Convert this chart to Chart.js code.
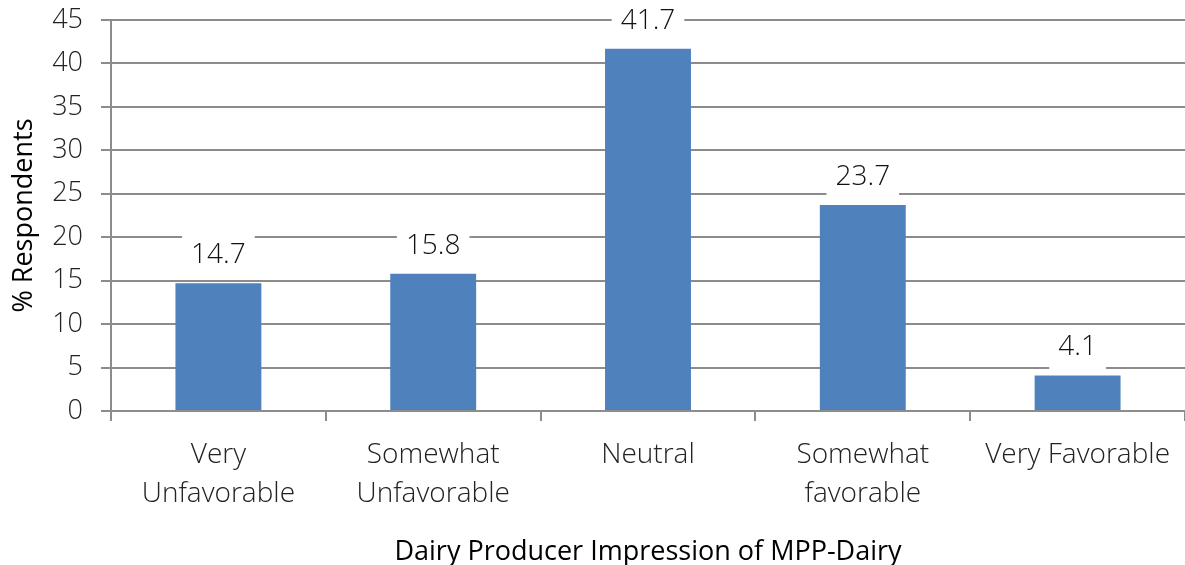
<!DOCTYPE html>
<html>
<head>
<meta charset="utf-8">
<script src="https://cdn.jsdelivr.net/npm/chart.js@4"></script>
<style>
  html, body { margin: 0; padding: 0; background: #fff; }
  #wrap { width: 1185px; height: 565px; }
</style>
</head>
<body>
<div id="wrap"><canvas id="impressionChart" width="1185" height="565"></canvas></div>
<script>
const categories = [['Very', 'Unfavorable'], ['Somewhat', 'Unfavorable'], 'Neutral', ['Somewhat', 'favorable'], 'Very Favorable'];
const respondents = [14.7, 15.8, 41.7, 23.7, 4.1];
const yTicks = [0, 5, 10, 15, 20, 25, 30, 35, 40, 45];

const FONT = 'Open Sans';
const GRID = '#8c8c8c';

// Value labels on white boxes above each bar
const valueLabels = {
  id: 'valueLabels',
  afterDatasetsDraw(chart) {
    const ctx = chart.ctx;
    const meta = chart.getDatasetMeta(0);
    ctx.save();
    ctx.font = '300 28px "' + FONT + '"';
    ctx.textAlign = 'center';
    ctx.textBaseline = 'middle';
    meta.data.forEach((bar, i) => {
      const txt = respondents[i].toFixed(1);
      const w = ctx.measureText(txt).width + 18;
      const cy = bar.y - 28;
      ctx.fillStyle = '#fff';
      ctx.fillRect(bar.x - w / 2, cy - 22, w, 44);
      ctx.fillStyle = '#111';
      ctx.fillText(txt, bar.x, cy);
    });
    ctx.restore();
  }
};

new Chart(document.getElementById('impressionChart'), {
  type: 'bar',
  data: {
    labels: categories,
    datasets: [{
      data: respondents,
      backgroundColor: '#4f81bd',
      borderWidth: 0,
      categoryPercentage: 0.4,
      barPercentage: 1.0
    }]
  },
  options: {
    responsive: false,
    animation: false,
    layout: { padding: { top: 20, right: 0, left: 0, bottom: 0 } },
    plugins: { legend: { display: false }, tooltip: { enabled: false } },
    scales: {
      y: {
        min: 0,
        max: 45,
        afterBuildTicks: axis => { axis.ticks = yTicks.map(v => ({ value: v })); },
        afterFit: axis => {
          axis.width = 111;
          axis.paddingTop = 0;
          axis.paddingBottom = 0;
        },
        ticks: { color: '#222', font: { family: FONT, size: 27, weight: '300' }, padding: 18 },
        grid: { color: GRID, lineWidth: 2, tickLength: 10 },
        border: { color: GRID, width: 2 },
        title: { display: true, text: '% Respondents', color: '#000', font: { family: FONT, size: 27 }, padding: { top: 8, bottom: 0 } }
      },
      x: {
        afterFit: axis => { axis.height = 154; },
        ticks: { color: '#222', font: { family: FONT, size: 28, weight: '300', lineHeight: 1.4 }, padding: 14, maxRotation: 0 },
        grid: { color: GRID, lineWidth: 2, tickLength: 10, drawOnChartArea: false },
        border: { color: GRID, width: 2 },
        title: { display: true, text: 'Dairy Producer Impression of MPP-Dairy', color: '#000', font: { family: FONT, size: 27 }, padding: { top: 0, bottom: -4 } }
      }
    }
  },
  plugins: [valueLabels]
});
</script>
</body>
</html>
